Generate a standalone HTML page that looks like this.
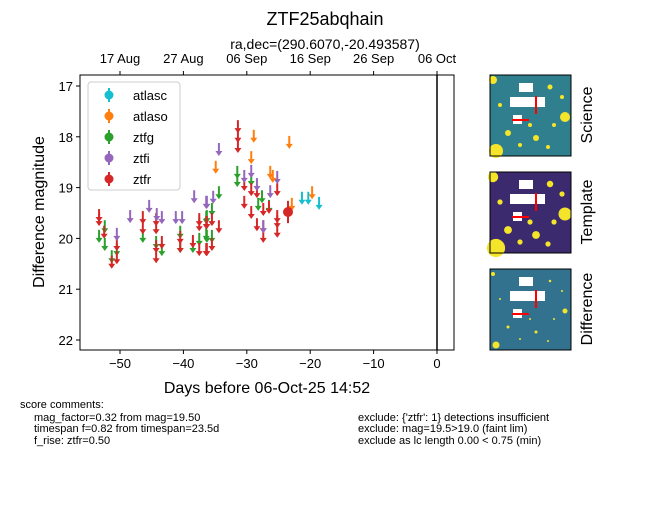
<!DOCTYPE html>
<html><head><meta charset="utf-8"><style>
body{margin:0;background:#fff;}
svg text{font-family:"Liberation Sans","DejaVu Sans",sans-serif;}
</style></head><body>
<svg id="chart" width="650" height="500" viewBox="0 0 650 500" xmlns="http://www.w3.org/2000/svg">
<rect width="650" height="500" fill="#fff"/>
<text x="325" y="25" font-size="18" text-anchor="middle">ZTF25abqhain</text>
<text x="325" y="49" font-size="14" text-anchor="middle">ra,dec=(290.6070,-20.493587)</text>
<g id="plot"></g>
<text x="267" y="393" font-size="16" text-anchor="middle">Days before 06-Oct-25 14:52</text>
<text transform="translate(44,212) rotate(-90)" font-size="16" text-anchor="middle">Difference magnitude</text>
<g>
<rect x="88" y="82" width="92" height="108" rx="3" fill="#fff" stroke="#ccc"/>
</g>
<g id="legend"></g>
<g id="cutouts"></g>
<g font-size="11">
<text x="20" y="408">score comments:</text>
<text x="34" y="421">mag_factor=0.32 from mag=19.50</text>
<text x="34" y="432">timespan f=0.82 from timespan=23.5d</text>
<text x="34" y="444">f_rise: ztfr=0.50</text>
</g>
<g font-size="11">
<text x="358" y="421">exclude: {'ztfr': 1} detections insufficient</text>
<text x="358" y="432">exclude: mag=19.5&gt;19.0 (faint lim)</text>
<text x="358" y="444">exclude as lc length 0.00 &lt; 0.75 (min)</text>
</g>
</svg>
<script>
const xTicks=[-50,-40,-30,-20,-10,0];
const yTicks=[17,18,19,20,21,22];
const topTickLabels=["17 Aug","27 Aug","06 Sep","16 Sep","26 Sep","06 Oct"];
const topTickDays=[-50,-40,-30,-20,-10,0];
const ztfrDays=[-53.3,-53.3,-52.5,-51.3,-50.5,-50.5,-46.4,-46.4,-44.3,-44.3,-44.3,-44.3,-43.4,-40.5,-40.5,-38.5,-37.5,-37.5,-37.5,-36.3,-36.3,-31.4,-31.4,-31.4,-30.4,-29.3,-28.4,-30.4,-29.3,-27.4,-26.5,-28.4,-27.4,-27.4,-25.2,-25.2,-25.2,-25.2,-34.4,-35.5,-35.5,-36.4,-36.4];
const ztfrMags=[19.56,19.64,19.89,20.48,20.13,20.39,19.6,19.8,19.64,19.8,20.17,20.37,20.09,19.99,20.17,20.07,19.64,19.74,20.23,19.7,20.23,17.81,18.0,18.2,18.95,19.05,19.09,19.3,19.5,19.44,19.4,19.74,19.78,19.97,19.05,19.58,19.68,19.87,19.78,19.64,20.13,19.7,20.23];
const ztfgDays=[-53.3,-52.4,-51.3,-50.5,-52.4,-46.4,-44.3,-43.4,-40.5,-40.5,-38.5,-37.5,-36.3,-36.3,-31.5,-31.5,-29.3,-34.4,-35.5,-36.4,-36.4,-35.5,-27.6,-28.2,-26.5];
const ztfgMags=[19.97,20.13,20.37,20.23,19.78,19.97,20.09,20.23,19.89,20.17,20.17,20.03,19.58,19.97,18.71,18.87,18.85,19.11,19.44,19.6,19.93,19.97,19.19,19.34,19.38];
const ztfiDays=[-48.4,-50.5,-45.4,-44.2,-43.4,-41.2,-40.2,-38.3,-36.3,-34.4,-36.4,-35.3,-30.4,-29.3,-28.4,-26.3,-25.2,-27.4];
const ztfiMags=[19.58,19.93,19.38,19.54,19.6,19.6,19.6,19.19,19.3,18.26,19.3,19.2,18.79,18.69,18.95,19.09,18.81,19.78];
const atlasoDays=[-28.9,-23.3,-29.3,-34.9,-26.3,-25.9,-22.9,-19.7];
const atlasoMags=[18.0,18.12,18.42,18.61,18.71,18.79,19.34,19.11];
const atlascDays=[-21.3,-20.3,-18.6];
const atlascMags=[19.22,19.22,19.32];
const detDays=[-23.5];
const detMags=[19.48];
const detErr=[0.22];

const NS="http://www.w3.org/2000/svg";
const L=80,R=454,T=75,B=350;
const xs=d=>437+d*6.34;
const ys=m=>86+(m-17)*50.8;
function mk(tag,at,parent){const e=document.createElementNS(NS,tag);for(const k in at)e.setAttribute(k,at[k]);parent.appendChild(e);return e;}
const plot=document.getElementById('plot');
mk('rect',{x:L,y:T,width:R-L,height:B-T,fill:'none',stroke:'#000','stroke-width':1},plot);
const vl=mk('line',{x1:xs(0),x2:xs(0),y1:T,y2:B,stroke:'#000','stroke-width':1.5},plot);


xTicks.forEach(t=>{
  mk('line',{x1:xs(t),x2:xs(t),y1:B,y2:B+4,stroke:'#000'},plot);
  const tx=mk('text',{x:xs(t),y:B+18,'font-size':13,'text-anchor':'middle'},plot);
  tx.textContent=t<0?'\u2212'+(-t):String(t);
  
  
});
yTicks.forEach(t=>{
  mk('line',{x1:L-4,x2:L,y1:ys(t),y2:ys(t),stroke:'#000'},plot);
  const tx=mk('text',{x:L-7,y:ys(t)+5,'font-size':13,'text-anchor':'end'},plot);
  tx.textContent=t;
  
  
});
topTickDays.forEach((t,i)=>{
  mk('line',{x1:xs(t),x2:xs(t),y1:T-4,y2:T,stroke:'#000'},plot);
  const tx=mk('text',{x:xs(t),y:T-12,'font-size':13,'text-anchor':'middle'},plot);
  tx.textContent=topTickLabels[i];
  
  
});
function arrow(d,m,c,parent){
  const g=mk('g',{},parent);
  
  
  const x=xs(d),y=ys(m);
  mk('line',{x1:x,x2:x,y1:y-7,y2:y+2,stroke:c,'stroke-width':2},g);
  mk('path',{d:`M${x-3.5} ${y+1}L${x+3.5} ${y+1}L${x} ${y+6}Z`,fill:c},g);
}
function series(days,mags,c){days.forEach((d,i)=>arrow(d,mags[i],c,plot));}
series(ztfgDays,ztfgMags,'#2ca02c');
series(ztfrDays,ztfrMags,'#d62728');
series(ztfiDays,ztfiMags,'#9467bd');
series(atlasoDays,atlasoMags,'#ff7f0e');
series(atlascDays,atlascMags,'#17becf');
detDays.forEach((d,i)=>{
  const g=mk('g',{},plot);
  
  
  mk('line',{x1:xs(d),x2:xs(d),y1:ys(detMags[i]-detErr[i]),y2:ys(detMags[i]+detErr[i]),stroke:'#d62728','stroke-width':2},g);
  mk('circle',{cx:xs(d),cy:ys(detMags[i]),r:5,fill:'#d62728'},g);
});
const lg=document.getElementById('legend');
const names=['atlasc','atlaso','ztfg','ztfi','ztfr'];
const cols=['#17becf','#ff7f0e','#2ca02c','#9467bd','#d62728'];
names.forEach((n,i)=>{
  const y=95+i*21;
  const g=mk('g',{},lg);
  
  
  mk('line',{x1:109,x2:109,y1:y-7,y2:y+7,stroke:cols[i],'stroke-width':2},g);
  mk('circle',{cx:109,cy:y,r:4.5,fill:cols[i]},g);
  const t=mk('text',{x:133,y:y+5,'font-size':13},g);t.textContent=n;
});
// cutouts
const cut=document.getElementById('cutouts');
const labels=['Science','Template','Difference'];
const bgs=['#2f7f8e','#3b2a6e','#33728e'];
const tops=[75,172,269];
const dots=[[3,5,4],[75,42,5],[6,76,7],[18,58,3],[60,12,2.5],[46,63,3],[64,50,2],[40,50,2],[72,22,2],[10,30,2],[30,70,2],[58,72,2]];
tops.forEach((ty,k)=>{
  const g=mk('g',{},cut);
  
  
  mk('rect',{x:490,y:ty,width:81,height:81,fill:bgs[k]},g);
  const sc=k==2?0.5:(k==1?1.3:1);
  dots.forEach(p=>mk('circle',{cx:490+p[0],cy:ty+p[1],r:p[2]*sc,fill:'#f5e52a'},g));
  mk('rect',{x:519,y:ty+8,width:14,height:9,fill:'#fff'},g);
  mk('rect',{x:510,y:ty+22,width:35,height:10,fill:'#fff'},g);
  mk('rect',{x:513,y:ty+40,width:9,height:9,fill:'#fff'},g);
  mk('line',{x1:536,x2:536,y1:ty+21,y2:ty+39,stroke:'#f00','stroke-width':2},g);
  mk('line',{x1:512,x2:529,y1:ty+45,y2:ty+45,stroke:'#f00','stroke-width':2},g);
  mk('rect',{x:490,y:ty,width:81,height:81,fill:'none',stroke:'#000','stroke-width':1},g);
  const t=mk('text',{transform:`translate(592,${ty+40}) rotate(-90)`,'font-size':16,'text-anchor':'middle'},g);
  t.textContent=labels[k];
});
</script>
</body></html>
